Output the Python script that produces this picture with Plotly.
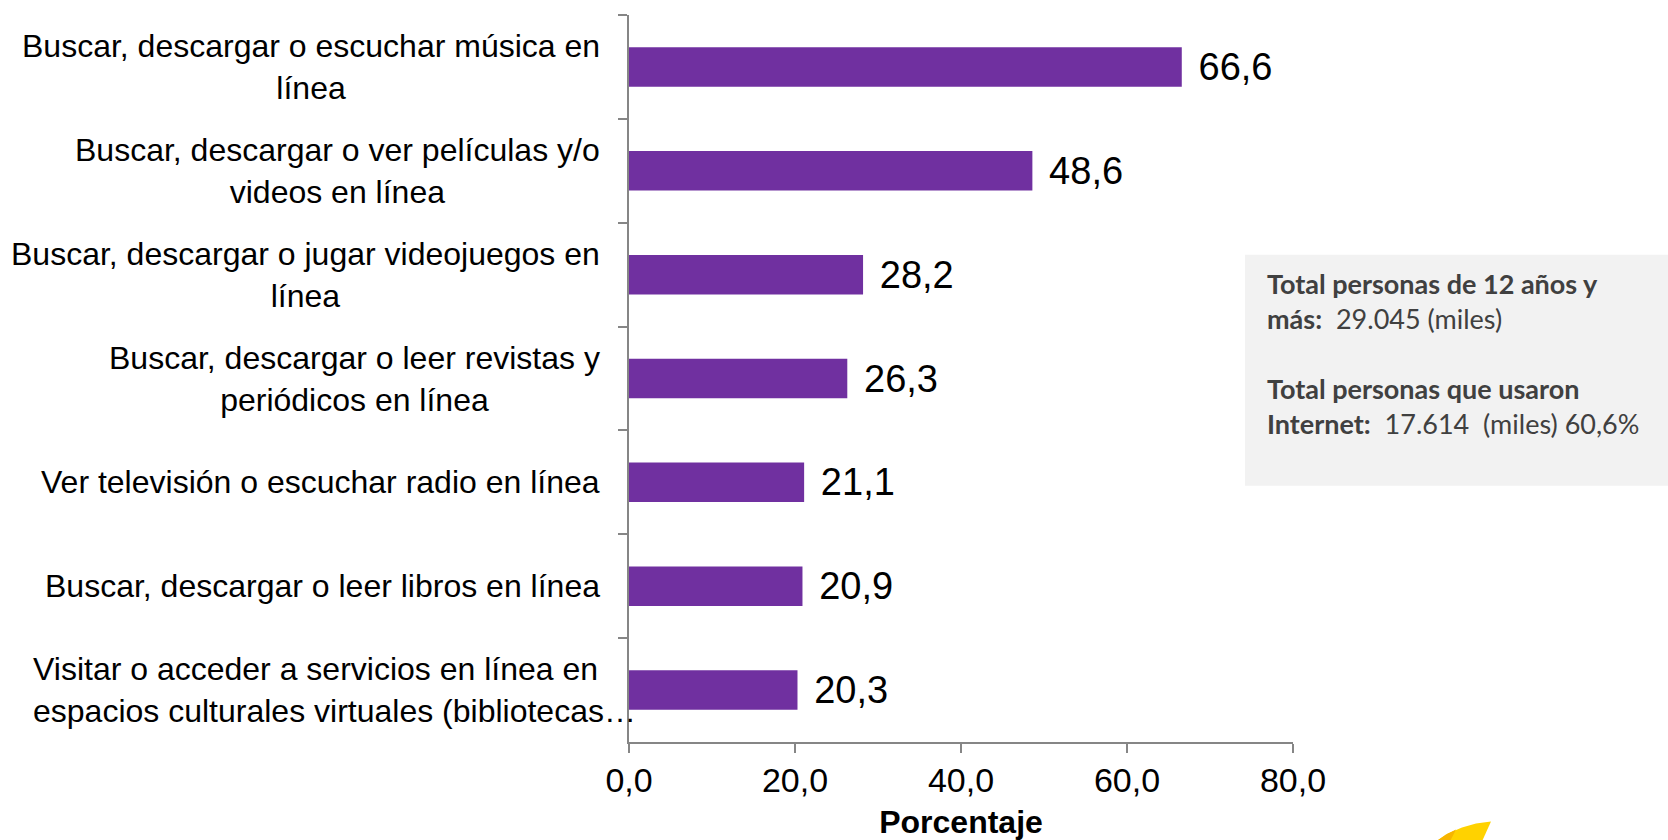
import plotly.graph_objects as go

categories = [
    "Buscar, descargar o escuchar música en<br>línea",
    "Buscar, descargar o ver películas y/o<br>videos en línea",
    "Buscar, descargar o jugar videojuegos en<br>línea",
    "Buscar, descargar o leer revistas y<br>periódicos en línea",
    "Ver televisión o escuchar radio en línea",
    "Buscar, descargar o leer libros en línea",
    "Visitar o acceder a servicios en línea en<br>espacios culturales virtuales (bibliotecas…",
]
values = [66.6, 48.6, 28.2, 26.3, 21.1, 20.9, 20.3]
x_ticks = [0, 20, 40, 60, 80]
x_title = "Porcentaje"
info_text = ("<b>Total personas de 12 años y<br>más:</b>  29.045 (miles)<br><br>"
             "<b>Total personas que usaron<br>Internet:</b>  17.614  (miles) 60,6%")

W, H = 1668, 840
L, R, T, B = 629, 1293, 15, 742.5
FONT = "Arial, Liberation Sans, sans-serif"
PURPLE = "#7030A0"
AXIS = "#868686"

def px(x):  # page pixel -> paper
    return (x - L) / (R - L)

def py(y):
    return (B - y) / (B - T)

fig = go.Figure()
fig.add_trace(go.Bar(
    x=values, y=categories, orientation="h",
    marker=dict(color=PURPLE, line=dict(width=0)),
    text=values, texttemplate=" \u200a%{x:.1f}", textposition="outside",
    textfont=dict(family=FONT, size=38, color="#000"),
    constraintext="none", cliponaxis=False, width=0.38,
))

for i, c in enumerate(categories):
    last = i == len(categories) - 1
    fig.add_annotation(x=0, y=c, xref="x", yref="y", text=c, showarrow=False,
                       xanchor="right", yanchor="middle",
                       align="left" if last else "center",
                       xshift=9 if last else -27,
                       font=dict(family=FONT, size=32, color="#000"))

# info box
fig.add_shape(type="rect", xref="paper", yref="paper",
              x0=px(1245), x1=px(1690), y0=py(486), y1=py(255),
              fillcolor="#F2F2F2", line=dict(width=0), layer="below")
fig.add_annotation(xref="paper", yref="paper", x=px(1265), y=py(265),
                   xanchor="left", yanchor="top", align="left", showarrow=False,
                   text=info_text, font=dict(family="Lato, Open Sans, sans-serif", size=27, color="#404040"))

# partial logo bottom right
def path(pts):
    return "M " + " L ".join(f"{px(a):.4f},{py(b):.4f}" for a, b in pts) + " Z"

fig.add_shape(type="path", xref="paper", yref="paper",
              path=path([(1436, 842), (1448, 834), (1462, 828), (1476, 824), (1491, 822), (1482, 842)]),
              fillcolor="#FFD200", line=dict(width=0))
fig.add_shape(type="path", xref="paper", yref="paper",
              path=path([(1436, 842), (1446, 835), (1456, 830), (1450, 842)]),
              fillcolor="#F7B500", line=dict(width=0))

fig.update_layout(
    width=W, height=H,
    margin=dict(l=L, r=W - R, t=T, b=H - B, pad=0, autoexpand=False),
    paper_bgcolor="white", plot_bgcolor="white",
    separators=",.",
    showlegend=False,
    bargap=0.62,
    font=dict(family=FONT, color="#000"),
)
fig.update_xaxes(
    range=[0, 80], tickvals=x_ticks, tickformat=".1f",
    showline=True, linecolor=AXIS, linewidth=1.5,
    ticks="outside", ticklen=9, tickcolor=AXIS, tickwidth=1.5,
    showgrid=False, zeroline=False, automargin=False,
    tickfont=dict(family=FONT, size=34, color="#000"),
    ticklabelstandoff=-2,
    title=dict(text="<b>" + x_title + "</b>", font=dict(family=FONT, size=32, color="#000"), standoff=15),
)
fig.update_yaxes(
    autorange="reversed", showticklabels=False, automargin=False,
    showline=True, linecolor=AXIS, linewidth=1.5,
    ticks="outside", tickson="boundaries", ticklen=9, tickcolor=AXIS, tickwidth=1.5,
    showgrid=False, zeroline=False,
)

fig.write_html(
    "out.html",
    config={"displayModeBar": False},
    post_script="document.body.style.margin='0';document.body.style.overflow='hidden';",
)
